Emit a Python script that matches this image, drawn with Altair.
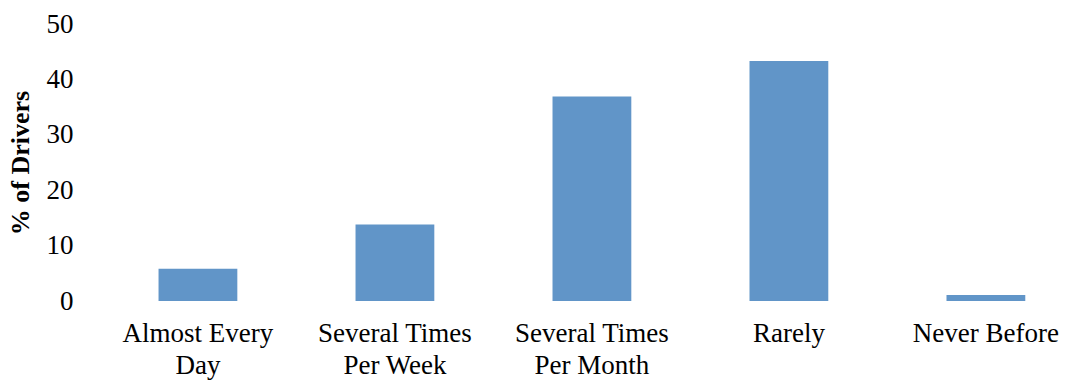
import altair as alt
import pandas as pd

# Survey responses: how often drivers do it
categories = ["Almost Every Day", "Several Times Per Week", "Several Times Per Month", "Rarely", "Never Before"]
label_lines = [["Almost Every", "Day"], ["Several Times", "Per Week"], ["Several Times", "Per Month"], ["Rarely"], ["Never Before"]]
percent = [5.8, 13.8, 36.9, 43.3, 1.1]

df = pd.DataFrame({"category": categories, "percent": percent})

# map each category to its (possibly two-line) axis label
label_map = "{" + ", ".join(
    "'" + c + "': [" + ", ".join("'" + s + "'" for s in lines) + "]"
    for c, lines in zip(categories, label_lines)
) + "}"

FONT = "Liberation Serif"

chart = alt.Chart(df).mark_bar(color="#6195C8").encode(
    x=alt.X(
        "category:N",
        sort=categories,
        scale=alt.Scale(paddingInner=0.6, paddingOuter=0.257, align=0.588),
        axis=alt.Axis(
            title=None,
            labelAngle=0,
            labelExpr=label_map + "[datum.label]",
            labelFont=FONT,
            labelFontSize=27,
            labelColor="#000000",
            labelLineHeight=32,
            labelPadding=19,
            ticks=False,
            domain=False,
        ),
    ),
    y=alt.Y(
        "percent:Q",
        scale=alt.Scale(domain=[0, 50]),
        axis=alt.Axis(
            title="% of Drivers",
            values=[0, 10, 20, 30, 40, 50],
            grid=False,
            ticks=False,
            domain=False,
            labelFont=FONT,
            labelFontSize=27,
            labelColor="#000000",
            labelPadding=26,
            titleFont=FONT,
            titleFontSize=26,
            titleFontWeight="bold",
            titleColor="#000000",
            titlePadding=13,
        ),
    ),
).properties(
    width=968,
    height=277,
    background="white",
    autosize=alt.AutoSizeParams(type="none"),
    padding={"left": 99, "top": 24, "right": 0, "bottom": 82},
).configure_view(strokeWidth=0, stroke=None)

chart.save("out.html", embed_options={"renderer": "svg", "actions": False})
